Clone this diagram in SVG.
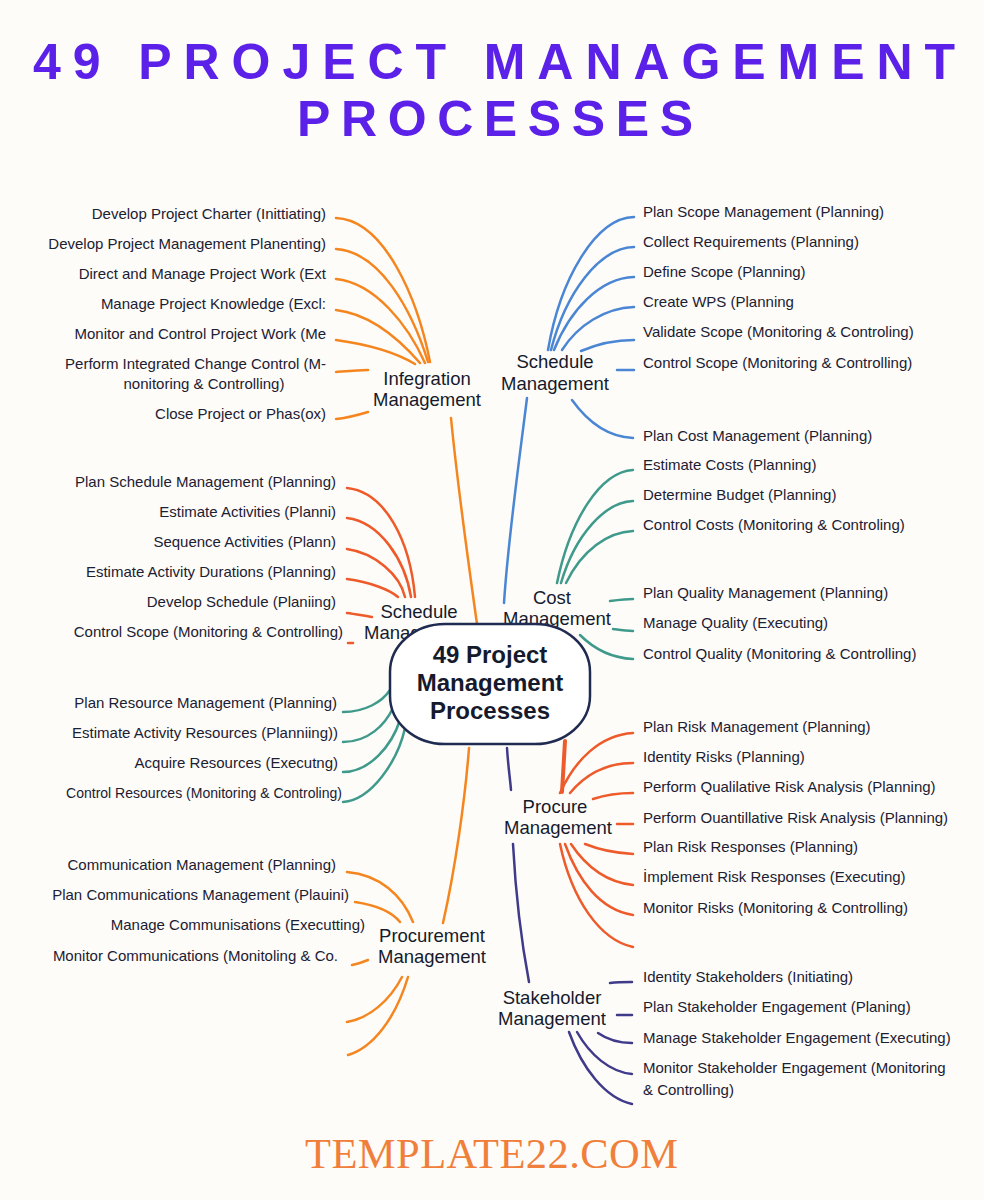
<svg xmlns="http://www.w3.org/2000/svg" width="984" height="1200" viewBox="0 0 984 1200">
<style>
.title{font-family:"Liberation Sans",Arial,sans-serif;font-weight:700;font-size:50px;fill:#5b21e8}
.foot{font-family:"Liberation Serif","Times New Roman",serif;font-size:42.5px;fill:#f07f3c}
.leaf{font-family:"Liberation Sans",Arial,sans-serif;font-size:15px;fill:#1c2033}
.l{text-anchor:end}
.hub{font-family:"Liberation Sans",Arial,sans-serif;font-size:18.5px;fill:#151a2d;text-anchor:middle}
.core{font-family:"Liberation Sans",Arial,sans-serif;font-size:24px;font-weight:700;fill:#151a2d;text-anchor:middle}
.c{fill:none;stroke-width:2.5;stroke-linecap:round}
.or{stroke:#f5861f}
.bl{stroke:#4a86d4}
.rd{stroke:#ee5a2a}
.tl{stroke:#3f9a8c}
.in{stroke:#3f3a8a}
</style>
<rect width="984" height="1200" fill="#fdfcf8"/>
<g id="title">
<text class="title" x="33" y="79" textLength="922" lengthAdjust="spacing">49 PROJECT MANAGEMENT</text>
<text class="title" x="297" y="136" textLength="396" lengthAdjust="spacing">PROCESSES</text>
</g>
<g id="connectors">
<path class="c or" d="M336,218 C385,220 418,300 430,362"/>
<path class="c or" d="M336,249 C380,252 412,310 428,362"/>
<path class="c or" d="M336,279 C375,283 408,325 425,363"/>
<path class="c or" d="M336,310 C370,314 400,340 420,363"/>
<path class="c or" d="M336,340 C365,344 395,352 415,364"/>
<path class="c or" d="M336,372 C348,371 358,370 368,370"/>
<path class="c or" d="M336,419 C348,418 358,415 368,412"/>
<path class="c or" d="M451,418 C458,490 468,560 477,624"/>
<path class="c bl" d="M548,350 C560,280 595,218 634,217"/>
<path class="c bl" d="M551,350 C565,295 598,248 634,247"/>
<path class="c bl" d="M554,350 C570,310 600,278 634,277"/>
<path class="c bl" d="M562,350 C578,325 605,308 634,307"/>
<path class="c bl" d="M581,351 C595,345 615,340 634,340"/>
<path class="c bl" d="M617,370 L634,370"/>
<path class="c bl" d="M572,400 C590,425 610,437 633,438"/>
<path class="c bl" d="M527,398 C518,470 508,540 504,603"/>
<path class="c tl" d="M557,583 C570,520 600,472 633,470"/>
<path class="c tl" d="M561,583 C575,535 605,502 633,501"/>
<path class="c tl" d="M566,583 C582,550 608,532 633,531"/>
<path class="c tl" d="M610,601 C618,600 626,599 633,599"/>
<path class="c tl" d="M613,629 C620,630 626,631 633,631"/>
<path class="c tl" d="M580,635 C595,650 612,658 633,659"/>
<path class="c rd" d="M347,488 C385,492 410,540 415,597"/>
<path class="c rd" d="M347,518 C380,522 405,560 411,597"/>
<path class="c rd" d="M347,549 C375,553 400,575 405,597"/>
<path class="c rd" d="M347,579 C370,582 390,590 398,597"/>
<path class="c rd" d="M347,613 C355,614 365,616 372,617"/>
<path class="c rd" d="M348,643 L353,643"/>
<path class="c tl" d="M343,712 C365,712 382,702 390,690"/>
<path class="c tl" d="M343,742 C368,742 385,725 393,708"/>
<path class="c tl" d="M343,772 C370,772 392,745 400,720"/>
<path class="c tl" d="M343,802 C372,800 398,760 405,728"/>
<path class="c rd" style="stroke-width:4" d="M565,741 C564,760 563,775 562,792"/>
<path class="c rd" d="M560,793 C575,760 600,735 633,733"/>
<path class="c rd" d="M570,793 C585,775 605,763 633,763"/>
<path class="c rd" d="M593,799 C605,795 620,793 633,793"/>
<path class="c rd" d="M617,824 L633,824"/>
<path class="c rd" d="M585,844 C600,850 615,853 633,854"/>
<path class="c rd" d="M571,844 C585,865 605,882 633,885"/>
<path class="c rd" d="M565,844 C578,880 600,910 633,915"/>
<path class="c rd" d="M560,844 C572,900 600,940 633,947"/>
<path class="c in" d="M507,748 C508,765 510,778 511,790"/>
<path class="c in" d="M513,844 C516,900 522,945 529,982"/>
<path class="c in" d="M610,983 C618,982 625,982 632,982"/>
<path class="c in" d="M617,1015 L632,1015"/>
<path class="c in" d="M598,1033 C608,1040 620,1043 632,1043"/>
<path class="c in" d="M577,1032 C590,1055 610,1072 632,1074"/>
<path class="c in" d="M569,1032 C582,1068 605,1098 632,1104"/>
<path class="c or" d="M469,748 C465,800 455,870 443,923"/>
<path class="c or" d="M347,872 C380,875 402,895 413,922"/>
<path class="c or" d="M355,902 C375,905 392,912 400,922"/>
<path class="c or" d="M352,965 C358,964 363,962 368,960"/>
<path class="c or" d="M402,977 C390,1000 370,1018 347,1022"/>
<path class="c or" d="M408,977 C395,1020 372,1048 348,1055"/>
</g>
<g id="integration">
<text class="hub" x="427" y="385">Infegration</text>
<text class="hub" x="427" y="406">Management</text>
<text class="leaf l" x="326" y="219">Develop Project Charter (Inittiating)</text>
<text class="leaf l" x="326" y="249">Develop Project Management Planenting)</text>
<text class="leaf l" x="326" y="279">Direct and Manage Project Work (Ext</text>
<text class="leaf l" x="326" y="309">Manage Project Knowledge (Excl:</text>
<text class="leaf l" x="326" y="339">Monitor and Control Project Work (Me</text>
<text class="leaf l" x="326" y="369">Perform Integrated Change Control (M-</text>
<text class="leaf" x="204" y="389" text-anchor="middle">nonitoring &amp; Controlling)</text>
<text class="leaf l" x="326" y="419">Close Project or Phas(ox)</text>
</g>
<g id="scope">
<text class="hub" x="555" y="368">Schedule</text>
<text class="hub" x="555" y="390">Management</text>
<text class="leaf" x="643" y="217">Plan Scope Management (Planning)</text>
<text class="leaf" x="643" y="247">Collect Requirements (Planning)</text>
<text class="leaf" x="643" y="277">Define Scope (Planning)</text>
<text class="leaf" x="643" y="307">Create WPS (Planning</text>
<text class="leaf" x="643" y="337">Validate Scope (Monitoring &amp; Controling)</text>
<text class="leaf" x="643" y="368">Control Scope (Monitoring &amp; Controlling)</text>
<text class="leaf" x="643" y="441">Plan Cost Management (Planning)</text>
</g>
<g id="cost">
<text class="hub" x="552" y="604">Cost</text>
<text class="hub" x="557" y="625">Management</text>
<text class="leaf" x="643" y="470">Estimate Costs (Planning)</text>
<text class="leaf" x="643" y="500">Determine Budget (Planning)</text>
<text class="leaf" x="643" y="530">Control Costs (Monitoring &amp; Controling)</text>
<text class="leaf" x="643" y="598">Plan Quality Management (Planning)</text>
<text class="leaf" x="643" y="628">Manage Quality (Executing)</text>
<text class="leaf" x="643" y="659">Control Quality (Monitoring &amp; Controlling)</text>
</g>
<g id="schedule">
<text class="hub" x="419" y="618">Schedule</text>
<text class="hub" x="418" y="639">Management</text>
<text class="leaf l" x="336" y="487">Plan Schedule Management (Planning)</text>
<text class="leaf l" x="336" y="517">Estimate Activities (Planni)</text>
<text class="leaf l" x="336" y="547">Sequence Activities (Plann)</text>
<text class="leaf l" x="336" y="577">Estimate Activity Durations (Planning)</text>
<text class="leaf l" x="336" y="607">Develop Schedule (Planiing)</text>
<text class="leaf l" x="343" y="637">Control Scope (Monitoring &amp; Controlling)</text>
</g>
<g id="resources">
<text class="leaf l" x="337" y="708">Plan Resource Management (Planning)</text>
<text class="leaf l" x="338" y="738">Estimate Activity Resources (Planniing))</text>
<text class="leaf l" x="338" y="768">Acquire Resources (Executng)</text>
<text class="leaf" x="66" y="798" textLength="276" lengthAdjust="spacingAndGlyphs">Control Resources (Monitoring &amp; Controling)</text>
</g>
<g id="risk">
<text class="hub" x="555" y="813">Procure</text>
<text class="hub" x="558" y="834">Management</text>
<text class="leaf" x="643" y="732">Plan Risk Management (Planning)</text>
<text class="leaf" x="643" y="762">Identity Risks (Planning)</text>
<text class="leaf" x="643" y="792">Perform Qualilative Risk Analysis (Planning)</text>
<text class="leaf" x="643" y="823">Perform Ouantillative Risk Analysis (Planning)</text>
<text class="leaf" x="643" y="852">Plan Risk Responses (Planning)</text>
<text class="leaf" x="643" y="882">İmplement Risk Responses (Executing)</text>
<text class="leaf" x="643" y="913">Monitor Risks (Monitoring &amp; Controlling)</text>
</g>
<g id="communication">
<text class="hub" x="432" y="942">Procurement</text>
<text class="hub" x="432" y="963">Management</text>
<text class="leaf l" x="336" y="870">Communication Management (Planning)</text>
<text class="leaf l" x="349" y="900">Plan Communications Management (Plauini)</text>
<text class="leaf l" x="365" y="930">Manage Communisations (Executting)</text>
<text class="leaf l" x="338" y="961">Monitor Communications (Monitoling &amp; Co.</text>
</g>
<g id="stakeholder">
<text class="hub" x="552" y="1004">Stakeholder</text>
<text class="hub" x="552" y="1025">Management</text>
<text class="leaf" x="643" y="982">Identity Stakeholders (Initiating)</text>
<text class="leaf" x="643" y="1012">Plan Stakeholder Engagement (Planing)</text>
<text class="leaf" x="643" y="1043">Manage Stakeholder Engagement (Executing)</text>
<text class="leaf" x="643" y="1073">Monitor Stakeholder Engagement (Monitoring</text>
<text class="leaf" x="643" y="1095">&amp; Controlling)</text>
</g>
<g id="center">
<rect x="390" y="624" width="200" height="120" rx="55" ry="48" fill="#ffffff" stroke="#1f2b50" stroke-width="2.5"/>
<text class="core" x="490" y="663">49 Project</text>
<text class="core" x="490" y="691">Management</text>
<text class="core" x="490" y="719">Processes</text>
</g>
<g id="footer">
<text class="foot" x="305" y="1168" textLength="373" lengthAdjust="spacing">TEMPLATE22.COM</text>
</g>
</svg>
